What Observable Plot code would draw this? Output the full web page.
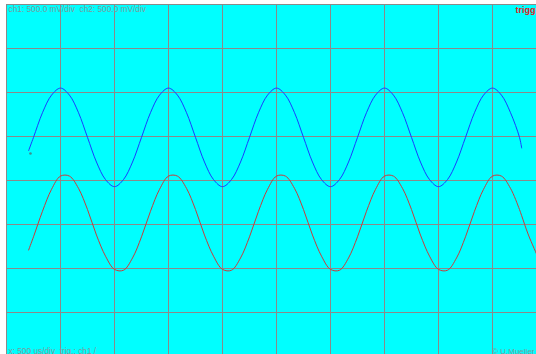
<!DOCTYPE html>
<html>
<head>
<meta charset="utf-8">
<script src="https://cdn.jsdelivr.net/npm/d3@7"></script>
<script src="https://cdn.jsdelivr.net/npm/@observablehq/plot@0.6"></script>
<style>
  html, body { margin: 0; padding: 0; background: white; overflow: hidden; }
</style>
</head>
<body>
<div id="chart"></div>
<script>
// time in ms (x: 500 us/div)
const timeMs = [0.205,
  0.25, 0.333, 0.417,
  0.5, 0.583, 0.667, 0.75, 0.833, 0.917, 1.0, 1.083, 1.167, 1.25, 1.333, 1.417,
  1.5, 1.583, 1.667, 1.75, 1.833, 1.917, 2.0, 2.083, 2.167, 2.25, 2.333, 2.417,
  2.5, 2.583, 2.667, 2.75, 2.833, 2.917, 3.0, 3.083, 3.167, 3.25, 3.333, 3.417,
  3.5, 3.583, 3.667, 3.75, 3.833, 3.917, 4.0, 4.083, 4.167, 4.25, 4.333, 4.417,
  4.5, 4.583, 4.667, 4.75, 4.77, 4.833, 4.917];
// ch1 (blue), volts
const ch1 = [0.34,
  0.49, 0.77, 0.97,
  1.05, 0.97, 0.77, 0.49, 0.21, 0.01, -0.07, 0.01, 0.21, 0.49, 0.77, 0.97,
  1.05, 0.97, 0.77, 0.49, 0.21, 0.01, -0.07, 0.01, 0.21, 0.49, 0.77, 0.97,
  1.05, 0.97, 0.77, 0.49, 0.21, 0.01, -0.07, 0.01, 0.21, 0.49, 0.77, 0.97,
  1.05, 0.97, 0.77, 0.49, 0.21, 0.01, -0.07, 0.01, 0.21, 0.49, 0.77, 0.97,
  1.05, 0.97, 0.77, 0.49, 0.37, null, null];
// ch2 (red), volts
const ch2 = [-0.79,
  -0.64, -0.35, -0.10,
  0.05, 0.05, -0.09, -0.33, -0.62, -0.86, -1.01, -1.02, -0.88, -0.64, -0.35, -0.10,
  0.05, 0.05, -0.09, -0.33, -0.62, -0.86, -1.01, -1.02, -0.88, -0.64, -0.35, -0.10,
  0.05, 0.05, -0.09, -0.33, -0.62, -0.86, -1.01, -1.02, -0.88, -0.64, -0.35, -0.10,
  0.05, 0.05, -0.09, -0.33, -0.62, -0.86, -1.01, -1.02, -0.88, -0.64, -0.35, -0.10,
  0.05, 0.05, -0.09, -0.33, -0.40, -0.62, -0.86];
// trigger marker
const markerT = [0.222];
const markerV = [0.307];
// grid divisions
const gridX = [0, 0.5, 1, 1.5, 2, 2.5, 3, 3.5, 4, 4.5];
const gridY = [-1.5, -1, -0.5, 0, 0.5, 1, 1.5, 2];
// labels
const topLabel = "ch1: 500.0 mV/div  ch2: 500.0 mV/div";
const trigLabel = "trigg";
const bottomLabel = "x: 500 us/div  trig.: ch1 /";
const creditLabel = "© U.Mueller";

const blueData = timeMs.map((t, i) => ({t, v: ch1[i]}));
const redData = timeMs.map((t, i) => ({t, v: ch2[i]}));

const font = "'Liberation Sans', Arial, sans-serif";
const labelGray = "#7a9c9c";

const chart = Plot.plot({
  width: 536,
  height: 354,
  marginLeft: 6,
  marginTop: 4,
  marginRight: 0,
  marginBottom: 0,
  style: {background: "white", fontFamily: font, overflow: "hidden"},
  x: {domain: [0, 5], range: [6, 546], axis: null},
  y: {domain: [-2, 2], range: [356, 4], axis: null},
  marks: [
    Plot.frame({fill: "#00ffff", stroke: null}),
    Plot.ruleX(gridX, {stroke: "#8a8a8a", strokeWidth: 1}),
    Plot.ruleY(gridY, {stroke: "#8a8a8a", strokeWidth: 1}),
    Plot.line(blueData, {x: "t", y: "v", stroke: "#1a3cff", strokeWidth: 1, curve: "catmull-rom"}),
    Plot.line(redData, {x: "t", y: "v", stroke: "#c83c3c", strokeWidth: 1, curve: "catmull-rom"}),
    Plot.dot(markerT, {x: d => d, y: (d, i) => markerV[i], r: 1.3, fill: "#3f8f8f", stroke: null}),
    Plot.text([topLabel], {frameAnchor: "top-left", dx: 2, dy: 2, fill: labelGray, fontSize: 8.3, textAnchor: "start"}),
    Plot.text([trigLabel], {frameAnchor: "top-right", dx: -1, dy: 2, fill: "#e02020", fontSize: 9, fontWeight: "bold", textAnchor: "end"}),
    Plot.text([bottomLabel], {frameAnchor: "bottom-left", dx: 2, dy: -1, fill: labelGray, fontSize: 8.3, textAnchor: "start"}),
    Plot.text([creditLabel], {frameAnchor: "bottom-right", dx: -2, dy: -1, fill: labelGray, fontSize: 8, textAnchor: "end"})
  ]
});
document.getElementById("chart").appendChild(chart);
</script>
</body>
</html>
